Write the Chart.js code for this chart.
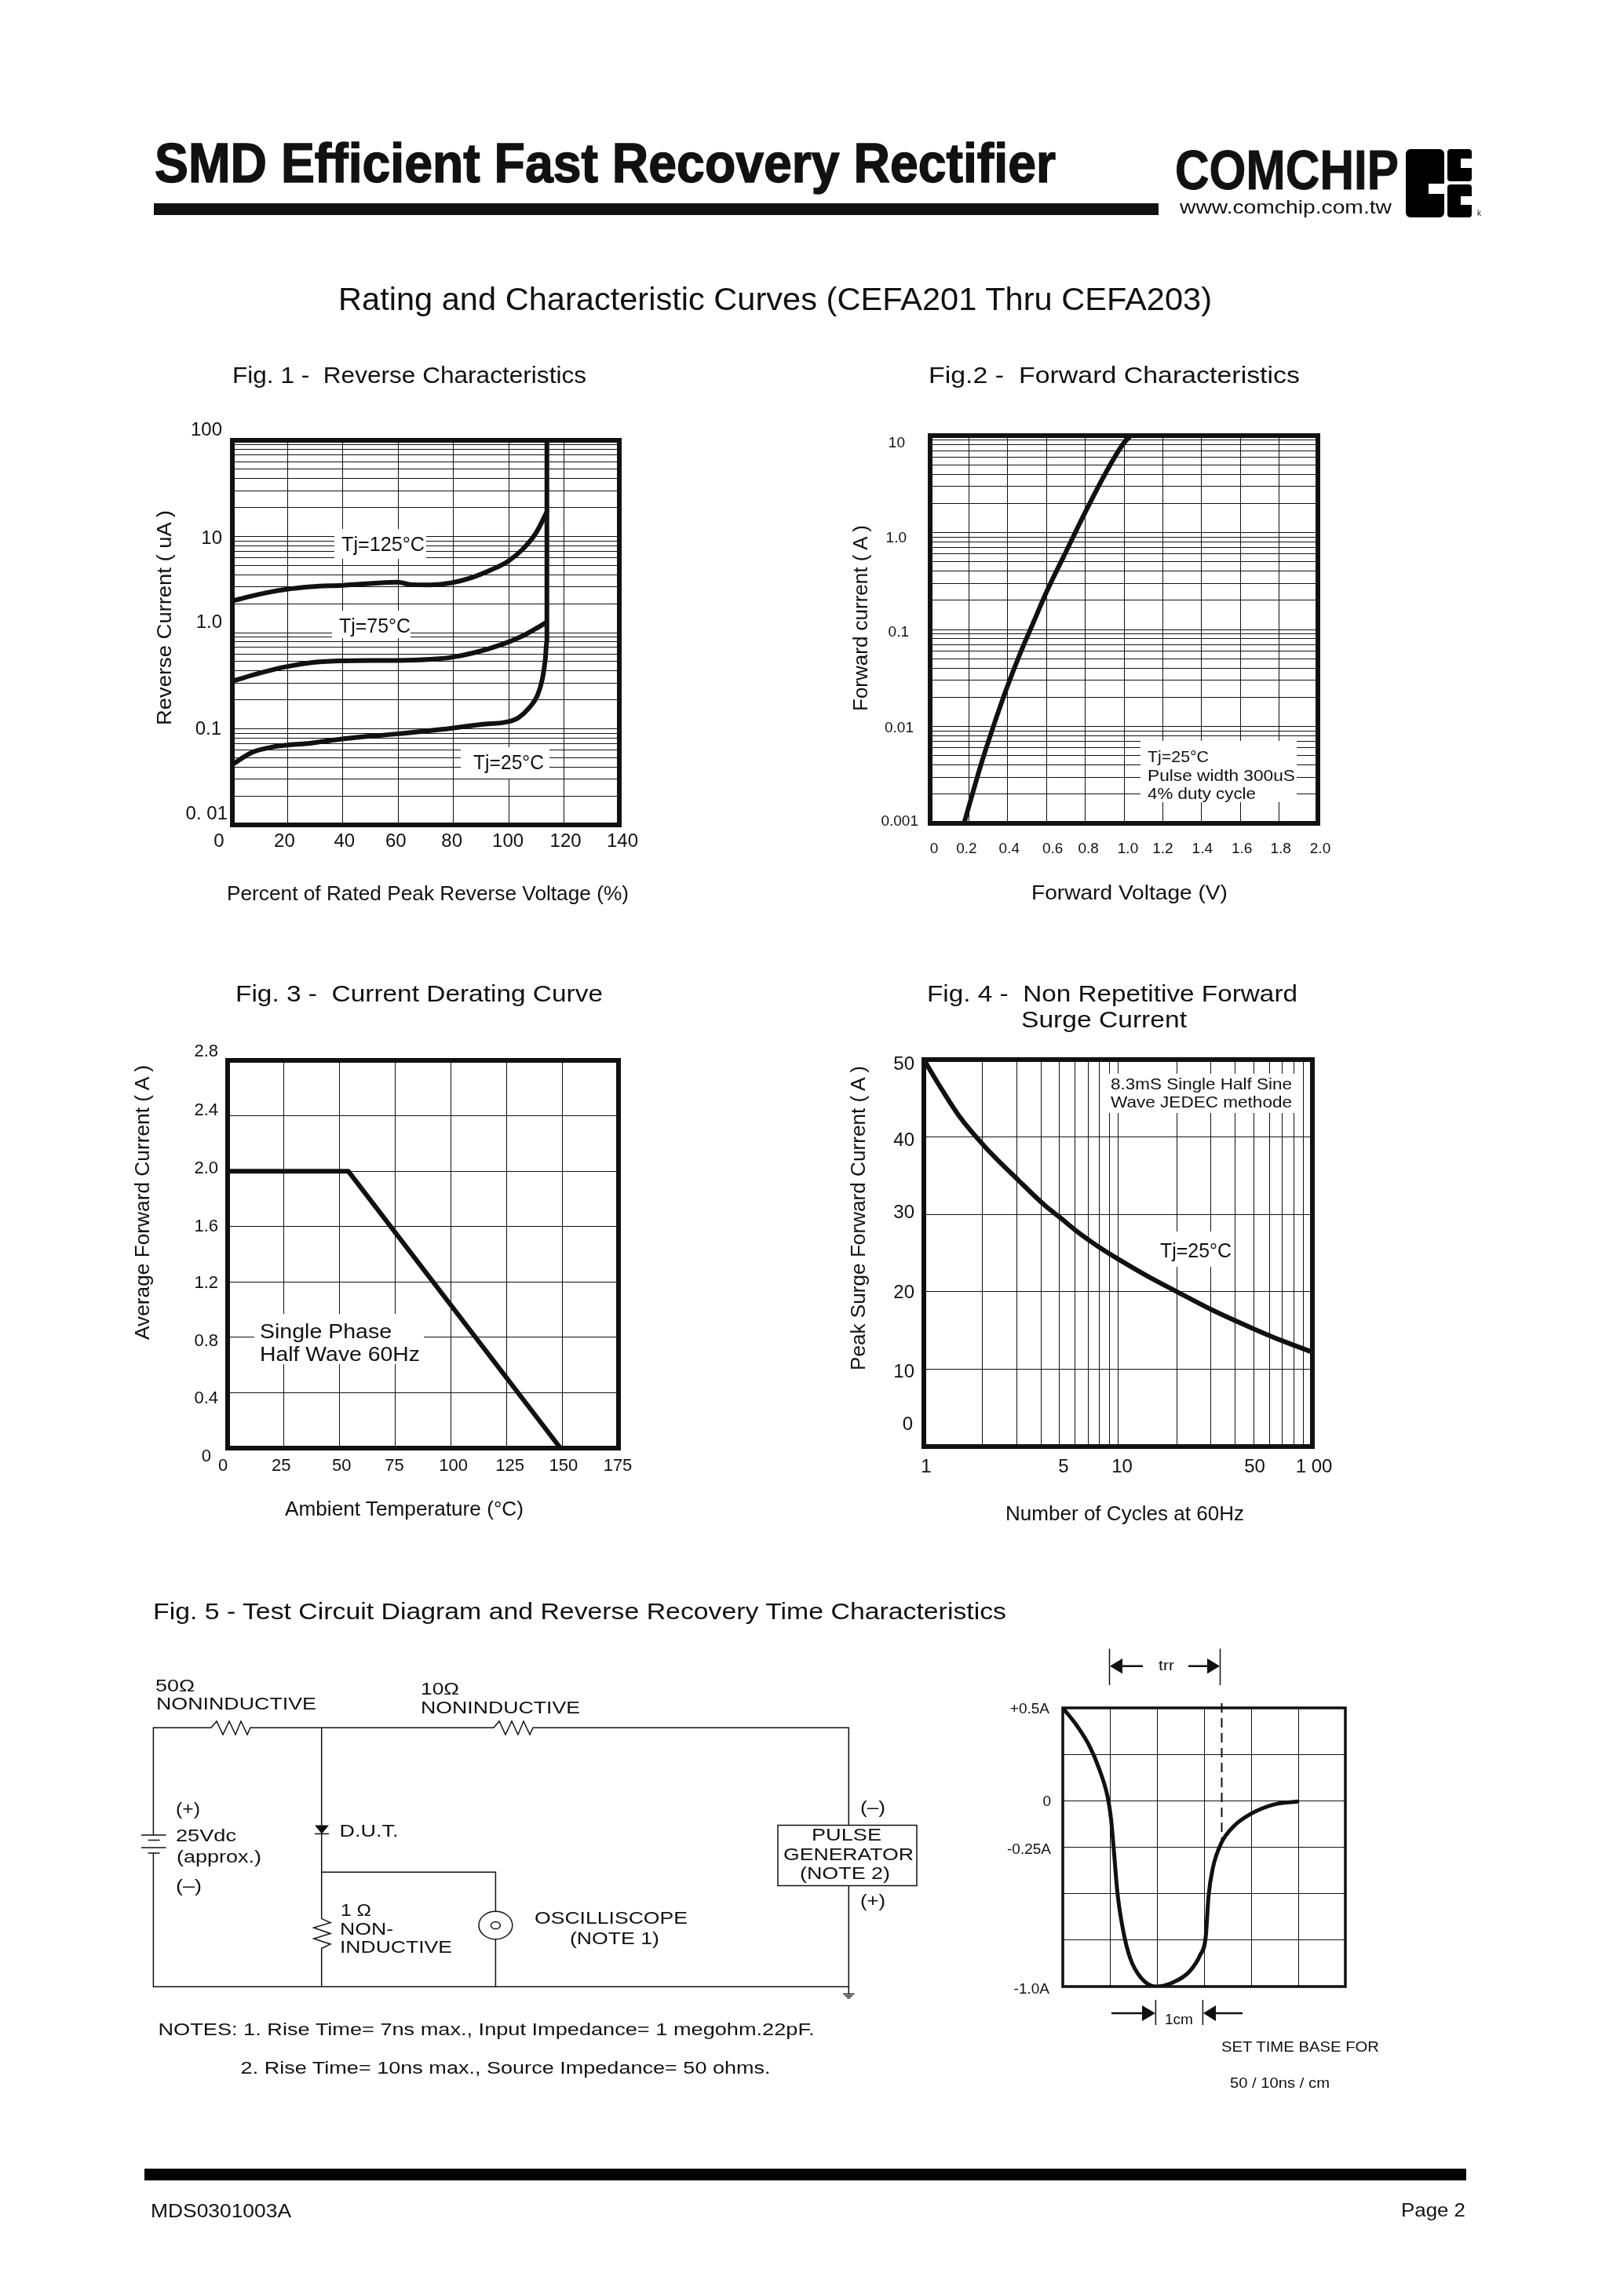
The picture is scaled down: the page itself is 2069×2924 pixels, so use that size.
<!DOCTYPE html>
<html>
<head>
<meta charset="utf-8">
<title>SMD Efficient Fast Recovery Rectifier</title>
<script src="https://cdn.jsdelivr.net/npm/chart.js@4/dist/chart.umd.min.js"></script>
<style>
  html, body { margin: 0; padding: 0; background: #fff; }
  #page { position: relative; width: 2069px; height: 2924px; overflow: hidden; background: #fff; }
  #page canvas { position: absolute; }
  #sheet { position: absolute; left: 0; top: 0; }
  #sheet text { font-family: "Liberation Sans", Arial, sans-serif; fill: #111; dominant-baseline: central; white-space: pre; }
  .wire { fill: none; stroke: #111; stroke-width: 1.5; }
</style>
</head>
<body>
<div id="page">
<svg id="sheet" width="2069" height="2924" viewBox="0 0 2069 2924">

  <!-- header -->
  <g>
    <text x="197" y="208" font-size="70" font-weight="bold" stroke="#111" stroke-width="1.5" textLength="1148">SMD Efficient Fast Recovery Rectifier</text>
    <text x="1497" y="216" font-size="71" font-weight="bold" stroke="#111" stroke-width="1" textLength="285">COMCHIP</text>
    <text x="1503" y="263" font-size="24" textLength="270">www.comchip.com.tw</text>
    <text x="431" y="381" font-size="41" textLength="1113">Rating and Characteristic Curves (CEFA201 Thru CEFA203)</text>
  </g>
  <rect x="196" y="259" width="1280" height="15" fill="#111"/>
  <path fill="#000" fill-rule="evenodd" d="M1797 190h37a6 6 0 0 1 6 6v38h-20v13h20v24a6 6 0 0 1 -6 6h-37a6 6 0 0 1 -6 -6v-75a6 6 0 0 1 6 -6z"/>
  <path fill="#000" d="M1848 190h23a4 4 0 0 1 4 4v8h-14v12h14v13a4 4 0 0 1 -4 4h-23a4 4 0 0 1 -4 -4v-33a4 4 0 0 1 4 -4z"/>
  <path fill="#000" d="M1848 235h23a4 4 0 0 1 4 4v11h-14v11h14v12a4 4 0 0 1 -4 4h-23a4 4 0 0 1 -4 -4v-34a4 4 0 0 1 4 -4z"/>
  <text x="1882" y="271" font-size="10">k</text>

  <!-- chart titles -->
  <g>
    <text x="296" y="478" font-size="29" textLength="451">Fig. 1 -  Reverse Characteristics</text>
    <text x="1183" y="478" font-size="29" textLength="473">Fig.2 -  Forward Characteristics</text>
    <text x="300" y="1266" font-size="29" textLength="468">Fig. 3 -  Current Derating Curve</text>
    <text x="1181" y="1266" font-size="29" textLength="472">Fig. 4 -  Non Repetitive Forward</text>
    <text x="1301" y="1299" font-size="29" textLength="211">Surge Current</text>
  </g>

  <!-- axis titles -->
  <g font-size="25">
    <text x="289" y="1138" textLength="512">Percent of Rated Peak Reverse Voltage (%)</text>
    <text transform="translate(209,924) rotate(-90)" textLength="274">Reverse Current ( uA )</text>
    <text x="1314" y="1137" textLength="250">Forward Voltage (V)</text>
    <text transform="translate(1096,906) rotate(-90)" textLength="237">Forward current ( A )</text>
    <text x="363" y="1922" textLength="304">Ambient Temperature (°C)</text>
    <text transform="translate(181,1707) rotate(-90)" textLength="350">Average Forward Current ( A )</text>
    <text x="1281" y="1928" textLength="304">Number of Cycles at 60Hz</text>
    <text transform="translate(1093,1746) rotate(-90)" textLength="388">Peak Surge Forward Current ( A )</text>
  </g>

  <!-- notes inside the plots, on white boxes that cut the grid -->
  <g fill="#fff">
    <rect x="426" y="674" width="117" height="38"/>
    <rect x="423" y="778" width="100" height="35"/>
    <rect x="587" y="952" width="113" height="40"/>
    <rect x="1453" y="944" width="199" height="78"/>
    <rect x="324" y="1674" width="216" height="64"/>
    <rect x="1408" y="1368" width="243" height="50"/>
    <rect x="1476" y="1569" width="97" height="45"/>
  </g>
  <g font-size="25">
    <text x="435" y="693" textLength="106">Tj=125°C</text>
    <text x="432" y="797" textLength="91">Tj=75°C</text>
    <text x="603" y="971" textLength="90">Tj=25°C</text>
    <text x="1478" y="1593" textLength="91">Tj=25°C</text>
  </g>
  <g font-size="21">
    <text x="1462" y="963" textLength="78">Tj=25°C</text>
    <text x="1462" y="987" textLength="188">Pulse width 300uS</text>
    <text x="1462" y="1010" textLength="138">4% duty cycle</text>
    <text x="1415" y="1380" textLength="231">8.3mS Single Half Sine</text>
    <text x="1415" y="1403" textLength="231">Wave JEDEC methode</text>
  </g>
  <g font-size="26">
    <text x="331" y="1696" textLength="168">Single Phase</text>
    <text x="331" y="1725" textLength="204">Half Wave 60Hz</text>
  </g>

  <!-- fig. 5 circuit -->
  <text x="195" y="2053" font-size="29" textLength="1087">Fig. 5 - Test Circuit Diagram and Reverse Recovery Time Characteristics</text>
  <path class="wire" d="M195.4 2338V2201.3H269L276 2193L284 2210L292 2193L300 2210L307 2193L315 2210L319 2201.3H629L636 2193L644 2210L652 2193L660 2210L667 2193L675 2210L679 2201.3H1081.3V2325.5"/>
  <path class="wire" d="M1081.3 2402.5V2531.3H195.4V2361"/>
  <path class="wire" d="M180 2338H211.5M188.7 2344.4H203.5M180 2354H211.5M188.7 2361H203.5"/>
  <path class="wire" d="M409.7 2201.3V2444.6L421 2449.6L399.7 2456L421 2463.5L399.7 2470L421 2477L409.7 2482.5V2531.3"/>
  <path fill="#111" d="M401 2325.5H419L410 2336.4Z"/>
  <path class="wire" d="M401 2336.4H419"/>
  <path class="wire" d="M409.7 2385.2H631.4V2435.3M631.4 2470.7V2531.3"/>
  <ellipse class="wire" cx="631.4" cy="2453" rx="21.4" ry="17.7"/>
  <ellipse class="wire" cx="631.4" cy="2453" rx="6" ry="4.6"/>
  <rect class="wire" x="991" y="2325.5" width="177" height="77"/>
  <path class="wire" d="M1081.3 2531.3V2540.6M1074 2540.6H1088.7M1076.5 2543H1086M1079 2545.6H1083.6"/>
  <g font-size="22">
    <text x="198" y="2147" textLength="50">50Ω</text>
    <text x="199" y="2170" textLength="204">NONINDUCTIVE</text>
    <text x="536" y="2151" textLength="49">10Ω</text>
    <text x="536" y="2175" textLength="203">NONINDUCTIVE</text>
    <text x="224" y="2304" textLength="31">(+)</text>
    <text x="224" y="2338.5" textLength="77">25Vdc</text>
    <text x="225" y="2365" textLength="108">(approx.)</text>
    <text x="224" y="2402.5" textLength="33">(–)</text>
    <text x="432.5" y="2332" textLength="75">D.U.T.</text>
    <text x="434" y="2433" textLength="39">1 Ω</text>
    <text x="433" y="2457" textLength="68">NON-</text>
    <text x="433" y="2480" textLength="143">INDUCTIVE</text>
    <text x="681" y="2443" textLength="195">OSCILLISCOPE</text>
    <text x="726" y="2469" textLength="114">(NOTE 1)</text>
    <text x="1096" y="2302" textLength="32">(–)</text>
    <text x="1096" y="2421" textLength="32">(+)</text>
    <text x="1034" y="2337" textLength="89">PULSE</text>
    <text x="998" y="2362" textLength="166">GENERATOR</text>
    <text x="1019" y="2386" textLength="115">(NOTE 2)</text>
    <text x="201.5" y="2585" textLength="836">NOTES: 1. Rise Time= 7ns max., Input Impedance= 1 megohm.22pF.</text>
    <text x="306.6" y="2634" textLength="675">2. Rise Time= 10ns max., Source Impedance= 50 ohms.</text>
  </g>

  <!-- fig. 5 trr and time base marks -->
  <path class="wire" d="M1413.5 2100.5V2147M1554.5 2100.5V2147M1472.4 2548V2580M1532.4 2548V2580"/>
  <path class="wire" style="stroke-width:2.5" d="M1430 2122.7H1456M1514 2122.7H1538M1416 2565H1456M1548 2565H1583"/>
  <path fill="#111" d="M1414 2122.7L1430 2113V2132.5ZM1554 2122.7L1538 2113V2132.5ZM1472 2565L1455 2555V2575ZM1533 2565L1549 2555V2575Z"/>
  <g font-size="18">
    <text x="1476" y="2122" textLength="20">trr</text>
    <text x="1484" y="2573" textLength="36">1cm</text>
    <text x="1556" y="2608" textLength="201">SET TIME BASE FOR</text>
    <text x="1567" y="2654" textLength="127">50 / 10ns / cm</text>
  </g>

  <!-- footer -->
  <rect x="184" y="2763" width="1684" height="15" fill="#000"/>
  <g font-size="24">
    <text x="192" y="2816" textLength="179">MDS0301003A</text>
    <text x="1785" y="2815" textLength="82">Page 2</text>
  </g>
</svg>
</div>

<script>
// ===============================
// DATA
// ===============================

// Fig. 1 - Reverse Characteristics
const fig1XGrid = [0, 20, 40, 60, 80, 100, 120, 140];
const fig1XLabels = ["0", "20", "40", "60", "80", "100", "120", "140"];
const fig1YValues = [0.01, 0.1, 1, 10, 100];
const fig1YLabels = ["0. 01", "0.1", "1.0", "10", "100"];

const tj125X = [0, 10.1, 18.8, 28.6, 39.8, 50.7, 60, 64.3, 71.7, 79, 86.4, 93.8, 99.6, 104.9, 109.8, 113.8];
const tj125Y = [2.14, 2.52, 2.8, 3.0, 3.11, 3.25, 3.34, 3.17, 3.14, 3.28, 3.72, 4.52, 5.49, 7.3, 10.8, 18];

const tj75X = [0, 10.1, 18.8, 28.6, 39.8, 50.7, 60, 71.7, 79, 87.6, 97.5, 105, 109.8, 113.6];
const tj75Y = [0.313, 0.38, 0.438, 0.488, 0.509, 0.514, 0.514, 0.528, 0.552, 0.619, 0.753, 0.923, 1.1, 1.28];

const tj25X = [0, 6.9, 14.3, 28.6, 40.9, 60, 79, 90, 99.6, 103.6, 107.3, 110.4, 112.2, 113.2, 113.8, 113.8];
const tj25Y = [0.0425, 0.0564, 0.0645, 0.0711, 0.079, 0.0887, 0.101, 0.111, 0.118, 0.131, 0.164, 0.223, 0.333, 0.519, 0.809, 100];

// Fig. 2 - Forward Characteristics
const fig2XGrid = [0, 0.2, 0.4, 0.6, 0.8, 1, 1.2, 1.4, 1.6, 1.8, 2];
const fig2XLabels = ["0", "0.2", "0.4", "0.6", "0.8", "1.0", "1.2", "1.4", "1.6", "1.8", "2.0"];
const fig2YValues = [0.001, 0.01, 0.1, 1, 10];
const fig2YLabels = ["0.001", "0.01", "0.1", "1.0", "10"];

const forwardX = [0.175, 0.263, 0.325, 0.395, 0.465, 0.535, 0.596, 0.693, 0.8, 0.904, 0.996, 1.035];
const forwardY = [0.001, 0.00408, 0.00984, 0.0248, 0.0571, 0.121, 0.234, 0.589, 1.62, 4.07, 8.24, 10];

// Fig. 3 - Current Derating Curve
const fig3XGrid = [0, 25, 50, 75, 100, 125, 150, 175];
const fig3XLabels = ["0", "25", "50", "75", "100", "125", "150", "175"];
const fig3YGrid = [0, 0.4, 0.8, 1.2, 1.6, 2, 2.4, 2.8];
const fig3YLabels = ["0", "0.4", "0.8", "1.2", "1.6", "2.0", "2.4", "2.8"];

const deratingX = [0, 54, 149];
const deratingY = [2, 2, 0];

// Fig. 4 - Non Repetitive Forward Surge Current
const fig4XValues = [1, 5, 10, 50, 100];
const fig4XLabels = ["1", "5", "10", "50", "1 00"];
const fig4YGrid = [0, 10, 20, 30, 40, 50];
const fig4YLabels = ["0", "10", "20", "30", "40", "50"];

const surgeX = [1, 1.24, 1.52, 2.07, 3.07, 4.22, 5.08, 6.04, 8.46, 10.2, 13.98, 20.1, 30.2, 50, 71, 100];
const surgeY = [50, 46.1, 42.7, 38.7, 34.4, 31.1, 29.5, 27.94, 25.35, 24.1, 22.1, 20, 17.7, 15.2, 13.6, 12.2];

// Fig. 5 - Reverse Recovery Time
const fig5XGrid = [0, 1, 2, 3, 4, 5, 6];
const fig5YGrid = [-1, -0.75, -0.5, -0.25, 0, 0.25, 0.5];
const fig5YValues = [0.5, 0, -0.25, -1];
const fig5YLabels = ["+0.5A", "0", "-0.25A", "-1.0A"];

const recoveryX = [0, 0.298, 0.565, 0.774, 0.952, 1.024, 1.083, 1.161, 1.28, 1.429, 1.667, 1.982, 2.321, 2.679, 2.917, 3.036, 3.095, 3.185, 3.363, 3.631, 3.988, 4.464, 4.982];
const recoveryY = [0.5, 0.405, 0.296, 0.171, 0.021, -0.096, -0.263, -0.496, -0.696, -0.846, -0.955, -1, -0.98, -0.922, -0.83, -0.73, -0.513, -0.363, -0.229, -0.137, -0.071, -0.021, -0.004];

const trrX = [3.375, 3.375];
const trrY = [0.525, -0.23];

// ===============================
// HELPERS
// ===============================

// 1, 2, ... 9 on every decade, for the log grids
function logGrid(min, max) {
  const lines = [];
  for (let d = min; d < max; d = Number((d * 10).toPrecision(1))) {
    for (let m = 1; m <= 9; m++) {
      lines.push(Number((m * d).toPrecision(1)));
    }
  }
  lines.push(max);
  return lines;
}

function toPoints(xs, ys) {
  return xs.map(function (x, i) {
    return { x: x, y: ys[i] };
  });
}

function curve(xs, ys, width) {
  return {
    data: toPoints(xs, ys),
    borderColor: "#111",
    borderWidth: width,
    pointRadius: 0,
    cubicInterpolationMode: "monotone",
    borderCapStyle: "round",
    borderJoinStyle: "round"
  };
}

function straight(xs, ys, width) {
  const line = curve(xs, ys, width);
  line.cubicInterpolationMode = "default";
  line.tension = 0;
  return line;
}

function axis(position, type, min, max, grid, values, labels, fontSize, padding, fit) {
  return {
    type: type,
    position: position,
    min: min,
    max: max,
    border: { display: false },
    grid: { color: "#111", lineWidth: 1, drawTicks: false },
    afterBuildTicks: function (scale) {
      scale.ticks = grid.map(function (v) {
        return { value: v };
      });
    },
    afterFit: function (scale) {
      if (position === "left") {
        scale.width = fit;
      } else {
        scale.height = fit;
      }
    },
    ticks: {
      autoSkip: false,
      maxRotation: 0,
      padding: padding,
      color: "#111",
      font: { family: "'Liberation Sans', Arial, sans-serif", size: fontSize },
      callback: function (value) {
        const i = values.indexOf(value);
        return i >= 0 ? labels[i] : "";
      }
    }
  };
}

// Thick frame round the plot, and the small label shifts of the original artwork
function framePlugin(frameWidth, nudgeX, nudgeY) {
  function shift(scale, nudges) {
    scale.getLabelItems().forEach(function (item) {
      const n = nudges[item.label];
      if (n) {
        item.options.translation[0] += n[0];
        item.options.translation[1] += n[1];
      }
    });
  }
  return {
    id: "frame",
    afterLayout: function (chart) {
      shift(chart.scales.x, nudgeX);
      shift(chart.scales.y, nudgeY);
    },
    afterDatasetsDraw: function (chart) {
      const a = chart.chartArea;
      const ctx = chart.ctx;
      ctx.save();
      ctx.strokeStyle = "#111";
      ctx.lineWidth = frameWidth;
      ctx.strokeRect(a.left, a.top, a.right - a.left, a.bottom - a.top);
      ctx.restore();
    }
  };
}

const MARGIN = { left: 90, right: 60, top: 30, bottom: 50 };

function drawChart(box, xAxis, yAxis, datasets, frameWidth, nudgeX, nudgeY) {
  const canvas = document.createElement("canvas");
  canvas.width = box.right - box.left + MARGIN.left + MARGIN.right;
  canvas.height = box.bottom - box.top + MARGIN.top + MARGIN.bottom;
  canvas.style.left = box.left - MARGIN.left + "px";
  canvas.style.top = box.top - MARGIN.top + "px";
  document.getElementById("page").insertBefore(canvas, document.getElementById("sheet"));

  return new Chart(canvas.getContext("2d"), {
    type: "line",
    data: { datasets: datasets },
    options: {
      responsive: false,
      animation: false,
      devicePixelRatio: 1,
      layout: {
        autoPadding: false,
        padding: { top: MARGIN.top, right: MARGIN.right, left: 0, bottom: 0 }
      },
      plugins: { legend: { display: false }, tooltip: { enabled: false } },
      scales: { x: xAxis, y: yAxis }
    },
    plugins: [framePlugin(frameWidth, nudgeX, nudgeY)]
  });
}

// ===============================
// FIG. 1
// ===============================

drawChart(
  { left: 296, top: 561, right: 789, bottom: 1051 },
  axis("bottom", "linear", 0, 140, fig1XGrid, fig1XGrid, fig1XLabels, 24, 7, MARGIN.bottom),
  axis("left", "logarithmic", 0.01, 100, logGrid(0.01, 100), fig1YValues, fig1YLabels, 24, 13, MARGIN.left),
  [curve(tj125X, tj125Y, 6), curve(tj75X, tj75Y, 6), curve(tj25X, tj25Y, 6)],
  6,
  { "0": [-17, 0], "20": [-4, 0], "40": [2, 0], "60": [-3, 0], "80": [-2, 0], "100": [-1, 0], "120": [2, 0], "140": [4, 0] },
  { "100": [0, -13], "10": [0, 3], "1.0": [0, -13], "0.1": [-1, 1], "0. 01": [7, -14] }
);

// ===============================
// FIG. 2
// ===============================

drawChart(
  { left: 1185, top: 555, right: 1679, bottom: 1049 },
  axis("bottom", "linear", 0, 2, fig2XGrid, fig2XGrid, fig2XLabels, 19, 21, MARGIN.bottom),
  axis("left", "logarithmic", 0.001, 10, logGrid(0.001, 10), fig2YValues, fig2YLabels, 19, 15, MARGIN.left),
  [curve(forwardX, forwardY, 6)],
  6,
  { "0": [5, 0], "0.2": [-3, 0], "0.4": [2, 0], "0.6": [8, 0], "0.8": [4, 0], "1.0": [5, 0], "1.4": [1, 0], "1.6": [2, 0], "1.8": [2, 0], "2.0": [3, 0] },
  { "10": [-17, 10], "1.0": [-15, 7], "0.1": [-12, 4], "0.01": [-6, 2], "0.001": [0, -2] }
);

// ===============================
// FIG. 3
// ===============================

drawChart(
  { left: 290, top: 1351, right: 788, bottom: 1845 },
  axis("bottom", "linear", 0, 175, fig3XGrid, fig3XGrid, fig3XLabels, 22, 10, MARGIN.bottom),
  axis("left", "linear", 0, 2.8, fig3YGrid, fig3YGrid, fig3YLabels, 22, 12, MARGIN.left),
  [straight(deratingX, deratingY, 6)],
  6,
  { "0": [-6, 0], "25": [-3, 0], "50": [3, 0], "75": [-1, 0], "100": [3, 0], "125": [4, 0], "150": [1, 0], "175": [-1, 0] },
  { "2.8": [0, -11], "2.4": [0, -7], "2.0": [0, -3], "1.2": [0, 2], "0.8": [0, 5], "0.4": [0, 8], "0": [-9, 11] }
);

// ===============================
// FIG. 4
// ===============================

drawChart(
  { left: 1177, top: 1350, right: 1672, bottom: 1843 },
  axis("bottom", "logarithmic", 1, 100, logGrid(1, 100), fig4XValues, fig4XLabels, 24, 12, MARGIN.bottom),
  axis("left", "linear", 0, 50, fig4YGrid, fig4YGrid, fig4YLabels, 24, 12, MARGIN.left),
  [curve(surgeX, surgeY, 6)],
  6,
  { "1": [3, 0], "5": [5, 0], "10": [5, 0], "50": [1, 0], "1 00": [2, 0] },
  { "50": [0, 6], "40": [0, 5], "30": [0, -2], "20": [0, 2], "10": [0, 4], "0": [-2, -28] }
);

// ===============================
// FIG. 5 (RECOVERY TIME)
// ===============================

const trrLine = straight(trrX, trrY, 2);
trrLine.borderDash = [12, 7];
trrLine.clip = false;
trrLine.borderCapStyle = "butt";

drawChart(
  { left: 1354, top: 2176, right: 1714, bottom: 2531 },
  axis("bottom", "linear", 0, 6, fig5XGrid, [], [], 19, 0, MARGIN.bottom),
  axis("left", "linear", -1, 0.5, fig5YGrid, fig5YValues, fig5YLabels, 19, 17, MARGIN.left),
  [curve(recoveryX, recoveryY, 5), trrLine],
  3.5,
  {},
  { "+0.5A": [0, 2], "0": [2, 1], "-0.25A": [2, 3.5], "-1.0A": [0, 4] }
);

// ===============================
// STRETCH THE TEXT TO ITS MEASURED WIDTH
// ===============================

document.querySelectorAll("#sheet text[textLength]").forEach(function (t) {
  t.setAttribute("lengthAdjust", "spacingAndGlyphs");
});
</script>
</body>
</html>
